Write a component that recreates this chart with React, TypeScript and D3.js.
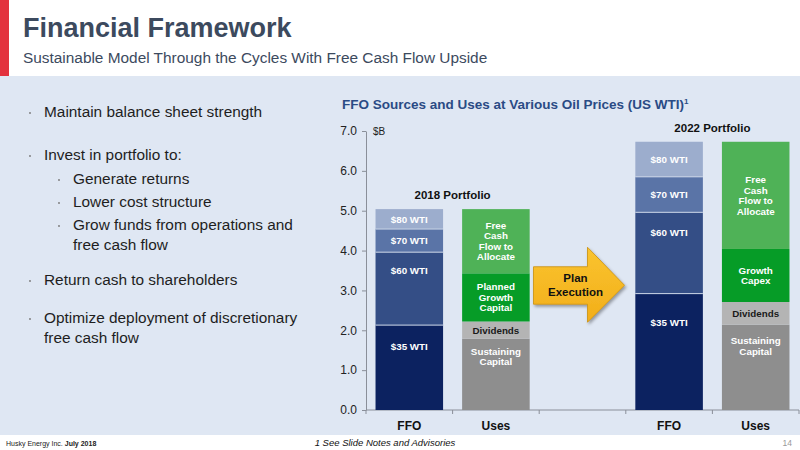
import { useRef, useEffect } from 'react';
import * as d3 from 'd3';

// --- data ---
const slots = ['ffo2018', 'uses2018', 'gap', 'ffo2022', 'uses2022'];
const slotLabels = ['FFO', 'Uses', '', 'FFO', 'Uses'];
const yTicks = [0, 1, 2, 3, 4, 5, 6, 7];

const ffoLevels = ['$35 WTI', '$60 WTI', '$70 WTI', '$80 WTI'];
const ffoColors = ['#0c2260', '#344e86', '#5a74a7', '#9cadcd'];
const ffo2018 = [2.13, 1.83, 0.58, 0.5];
const ffo2022 = [2.92, 2.04, 0.89, 0.88];

const uses2018Labels = ['Sustaining\nCapital', 'Dividends', 'Planned\nGrowth\nCapital', 'Free\nCash\nFlow to\nAllocate'];
const uses2022Labels = ['Sustaining\nCapital', 'Dividends', 'Growth\nCapex', 'Free\nCash\nFlow to\nAllocate'];
const usesColors = ['#8e8e8e', '#b4b4b4', '#069c27', '#4fb257'];
const usesText = ['#ffffff', '#1a1a1a', '#ffffff', '#ffffff'];
const uses2018 = [1.79, 0.43, 1.21, 1.61];
const uses2022 = [2.14, 0.57, 1.33, 2.69];

const bullets = [
  { level: 0, lines: ['Maintain balance sheet strength'] },
  { level: 0, lines: ['Invest in portfolio to:'] },
  { level: 1, lines: ['Generate returns'] },
  { level: 1, lines: ['Lower cost structure'] },
  { level: 1, lines: ['Grow funds from operations and', 'free cash flow'] },
  { level: 0, lines: ['Return cash to shareholders'] },
  { level: 0, lines: ['Optimize deployment of discretionary', 'free cash flow'] },
];
const bulletY = [117, 160, 184, 207, 230, 285, 323];

const W = 800;
const H = 450;
const FONT = 'Arial, "Liberation Sans", Helvetica, sans-serif';

export default function App() {
  const svgRef = useRef<SVGSVGElement>(null);

  useEffect(() => {
    document.body.style.margin = '0';
    if (!svgRef.current) return;
    const svg = d3.select(svgRef.current);
    svg.selectAll('*').remove();
    svg.attr('font-family', FONT);

    // backgrounds
    svg.append('rect').attr('width', W).attr('height', H).attr('fill', '#ffffff');
    svg.append('rect').attr('x', 0).attr('y', 76).attr('width', W).attr('height', 359).attr('fill', '#dfe7f3');
    svg.append('rect').attr('x', 0).attr('y', 0).attr('width', 9).attr('height', 76).attr('fill', '#e3323e');

    // header
    svg.append('text').attr('x', 23).attr('y', 37).attr('font-size', 27).attr('font-weight', 'bold')
      .attr('fill', '#3c4a5e').text('Financial Framework');
    svg.append('text').attr('x', 23).attr('y', 63).attr('font-size', 15.4)
      .attr('fill', '#3c4a5e').text('Sustainable Model Through the Cycles With Free Cash Flow Upside');

    // bullets
    bullets.forEach((b, i) => {
      const tx = b.level === 0 ? 44 : 73;
      const bx = b.level === 0 ? 30 : 59;
      svg.append('circle').attr('cx', bx).attr('cy', bulletY[i] - 4).attr('r', 0.9).attr('fill', '#777');
      b.lines.forEach((line, j) => {
        svg.append('text').attr('x', tx).attr('y', bulletY[i] + j * 19.5)
          .attr('font-size', 15.4).attr('fill', '#1e1e1e').text(line);
      });
    });

    // chart title
    const title = svg.append('text').attr('x', 342).attr('y', 109).attr('font-size', 13.5)
      .attr('font-weight', 'bold').attr('fill', '#2a4b85');
    title.append('tspan').text('FFO Sources and Uses at Various Oil Prices (US WTI)');
    title.append('tspan').attr('font-size', 8).attr('dy', -5).text('1');

    // scales
    const x = d3.scaleBand().domain(slots).range([366, 799]).paddingInner(0.22).paddingOuter(0.11);
    const y = d3.scaleLinear().domain([0, 7]).range([410, 131]);

    // y axis
    const yAxis = svg.append('g').attr('transform', 'translate(366,0)')
      .call(d3.axisLeft(y).tickValues(yTicks).tickFormat(d3.format('.1f')).tickSize(4).tickPadding(5).tickSizeOuter(0));
    yAxis.select('.domain').attr('stroke', '#8a8f99');
    yAxis.selectAll('.tick line').attr('stroke', '#8a8f99');
    yAxis.selectAll('text').attr('font-size', 12).attr('fill', '#222').attr('font-family', FONT);
    svg.append('text').attr('x', 373).attr('y', 135).attr('font-size', 10).attr('fill', '#222').text('$B');

    // x axis line + band boundary ticks
    svg.append('line').attr('x1', 366).attr('x2', 799).attr('y1', y(0)).attr('y2', y(0)).attr('stroke', '#8a8f99');
    d3.range(slots.length + 1).forEach((i) => {
      const tx = 366 + i * x.step();
      svg.append('line').attr('x1', tx).attr('x2', tx).attr('y1', y(0)).attr('y2', y(0) + 4).attr('stroke', '#8a8f99');
    });
    slots.forEach((s, i) => {
      if (!slotLabels[i]) return;
      svg.append('text').attr('x', x(s)! + x.bandwidth() / 2).attr('y', 430).attr('text-anchor', 'middle')
        .attr('font-size', 12).attr('font-weight', 'bold').attr('fill', '#111').text(slotLabels[i]);
    });

    // stacked bars
    const drawStack = (slot: string, values: number[], labels: string[], colors: string[], textColors: string[], sep: boolean) => {
      const bx = x(slot)!;
      const bw = x.bandwidth();
      let base = 0;
      values.forEach((v, i) => {
        const top = base + v;
        const y0 = y(base);
        const y1 = y(top);
        svg.append('rect').attr('x', bx).attr('y', y1).attr('width', bw).attr('height', y0 - y1).attr('fill', colors[i]);
        if (sep && i > 0) {
          svg.append('line').attr('x1', bx).attr('x2', bx + bw).attr('y1', y0).attr('y2', y0)
            .attr('stroke', '#c9d4e6').attr('stroke-width', 1);
        }
        const lines = labels[i].split('\n');
        const h = y0 - y1;
        const isTop = i === values.length - 1;
        const cy = h > 60 && !isTop ? y1 + 0.25 * h : y1 + h / 2;
        const lh = 10.5;
        lines.forEach((ln, j) => {
          svg.append('text').attr('x', bx + bw / 2).attr('y', cy + (j - (lines.length - 1) / 2) * lh + 3.5)
            .attr('text-anchor', 'middle').attr('font-size', 9.8).attr('font-weight', 'bold')
            .attr('fill', textColors[i]).text(ln);
        });
        base = top;
      });
    };

    const white = ffoLevels.map(() => '#ffffff');
    drawStack('ffo2018', ffo2018, ffoLevels, ffoColors, white, true);
    drawStack('ffo2022', ffo2022, ffoLevels, ffoColors, white, true);
    drawStack('uses2018', uses2018, uses2018Labels, usesColors, usesText, false);
    drawStack('uses2022', uses2022, uses2022Labels, usesColors, usesText, false);

    // portfolio captions
    const caption = (a: string, b: string, total: number, text: string) => {
      const cx = (x(a)! + x(b)! + x.bandwidth()) / 2;
      svg.append('text').attr('x', cx).attr('y', y(total) - 10).attr('text-anchor', 'middle')
        .attr('font-size', 11.5).attr('font-weight', 'bold').attr('fill', '#111').text(text);
    };
    caption('ffo2018', 'uses2018', d3.sum(ffo2018), '2018 Portfolio');
    caption('ffo2022', 'uses2022', d3.sum(ffo2022), '2022 Portfolio');

    // plan execution arrow
    const defs = svg.append('defs');
    const f = defs.append('filter').attr('id', 'shadow').attr('x', '-20%').attr('y', '-20%').attr('width', '150%').attr('height', '150%');
    f.append('feDropShadow').attr('dx', 1.5).attr('dy', 2).attr('stdDeviation', 1.5).attr('flood-color', '#000').attr('flood-opacity', 0.35);
    const grad = defs.append('linearGradient').attr('id', 'arrowFill').attr('x1', 0).attr('x2', 0).attr('y1', 0).attr('y2', 1);
    grad.append('stop').attr('offset', '0%').attr('stop-color', '#fac42f');
    grad.append('stop').attr('offset', '100%').attr('stop-color', '#f2ae1a');
    const ac = x('gap')! + x.bandwidth() / 2;
    const ay = y(3.13);
    const pts: [number, number][] = [
      [ac - 49, ay - 18.5], [ac + 5, ay - 18.5], [ac + 5, ay - 38], [ac + 42, ay],
      [ac + 5, ay + 37], [ac + 5, ay + 19], [ac - 49, ay + 19],
    ];
    svg.append('polygon').attr('points', pts.map((p) => p.join(',')).join(' '))
      .attr('fill', 'url(#arrowFill)').attr('stroke', '#c98f10').attr('stroke-width', 0.8).attr('filter', 'url(#shadow)');
    svg.append('text').attr('x', ac - 7).attr('y', ay - 3).attr('text-anchor', 'middle').attr('font-size', 11.5)
      .attr('font-weight', 'bold').attr('fill', '#111').text('Plan');
    svg.append('text').attr('x', ac - 7).attr('y', ay + 11).attr('text-anchor', 'middle').attr('font-size', 11.5)
      .attr('font-weight', 'bold').attr('fill', '#111').text('Execution');

    // footer
    const foot = svg.append('text').attr('x', 6).attr('y', 446).attr('font-size', 7).attr('fill', '#222');
    foot.append('tspan').text('Husky Energy Inc. ');
    foot.append('tspan').attr('font-weight', 'bold').text('July 2018');
    svg.append('text').attr('x', 385).attr('y', 446).attr('text-anchor', 'middle').attr('font-size', 9.5)
      .attr('font-style', 'italic').attr('fill', '#111').text('1 See Slide Notes and Advisories');
    svg.append('text').attr('x', 792).attr('y', 446).attr('text-anchor', 'end').attr('font-size', 8.5)
      .attr('fill', '#999').text('14');
  }, []);

  return (
    <svg
      ref={svgRef}
      width={W}
      height={H}
      viewBox={`0 0 ${W} ${H}`}
      style={{ position: 'absolute', left: 0, top: 0, display: 'block' }}
    />
  );
}
